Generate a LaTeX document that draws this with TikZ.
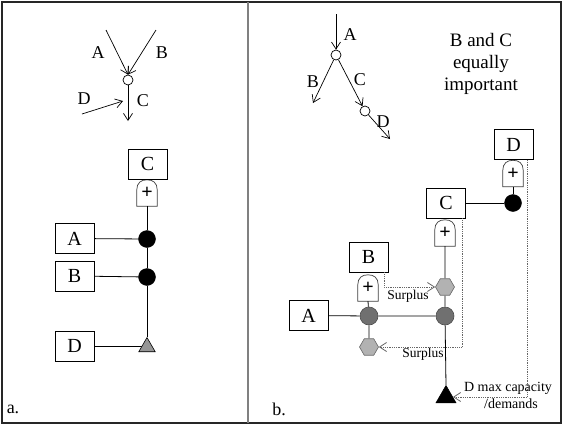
\documentclass[tikz,border=0pt]{standalone}
\usepackage{fontspec}
\setmainfont{Liberation Serif}
\usetikzlibrary{arrows.meta,shapes.geometric,calc,backgrounds}
\definecolor{dgray}{RGB}{112,112,112}
\definecolor{lgray}{RGB}{178,178,178}
\definecolor{tgray}{RGB}{150,150,150}
\tikzset{
 box/.style={draw, line width=0.8pt, minimum width=39pt, minimum height=30pt, inner sep=0pt, font=\fontsize{20}{22}\selectfont, fill=white},
 smallcirc/.style={circle, draw, line width=0.7pt, minimum size=10pt, inner sep=0pt, fill=white},
 blackdot/.style={circle, fill=black, draw=black, minimum size=17pt, inner sep=0pt},
 greydot/.style={circle, fill=dgray, draw=black!70, line width=0.6pt, minimum size=18pt, inner sep=0pt},
 hexa/.style={regular polygon, regular polygon sides=6, minimum size=19pt, inner sep=0pt, fill=lgray, draw=black!60, line width=0.6pt},
 tri/.style={regular polygon, regular polygon sides=3, inner sep=0pt, draw, line width=0.6pt},
 gatenode/.style={minimum width=20pt, minimum height=26pt, inner sep=0pt, font=\fontsize{20}{20}\selectfont\bfseries},
 arr/.style={-{Straight Barb[length=7pt,width=9pt]}, line width=0.7pt},
 dots/.style={densely dotted, line width=0.8pt, draw=black!60},
 darr/.style={dots, -{Straight Barb[length=7pt,width=9pt]}},
 conn/.style={line width=0.8pt},
 lbl/.style={font=\fontsize{18}{20}\selectfont, inner sep=0pt},
 slbl/.style={font=\fontsize{13.5}{15}\selectfont, inner sep=0pt},
}
\newcommand{\gateoutline}[1]{\draw[line width=0.7pt, draw=black!75, fill=white] (#1.south west) -- ($(#1.north west)+(0,10)$) .. controls ($(#1.north west)+(0,3)$) and ($(#1.north)+(-6,0)$) .. (#1.north) .. controls ($(#1.north)+(6,0)$) and ($(#1.north east)+(0,3)$) .. ($(#1.north east)+(0,10)$) -- (#1.south east) -- cycle;}
\begin{document}
\begin{tikzpicture}[x=1pt,y=-1pt]
\useasboundingbox (0,0) rectangle (563,426);
% frame
\draw[line width=1.5pt, black!85] (2,2) rectangle (561,423);
\draw[line width=2.5pt, gray] (248,2) -- (248,423);
\node[lbl] (capa) at (13,409) {a.};
\node[lbl] (capb) at (279,409) {b.};

% ---------- panel a, top
\node[smallcirc] (ac) at (128,80) {};
\coordinate (aAs) at (106,30);
\coordinate (aBs) at (156,30);
\draw[arr] (aAs) -- (ac.north);
\draw[arr] (aBs) -- (ac.north);
\coordinate (aCe) at (128,121);
\draw[arr] (ac) -- (aCe);
\coordinate (aDs) at (82,114);
\coordinate (aDe) at (123,101);
\draw[arr] (aDs) -- (aDe);
\node[lbl] (laA) at (98,53) {A};
\node[lbl] (laB) at (162,53) {B};
\node[lbl] (laC) at (143,101) {C};
\node[lbl] (laD) at (84,99) {D};

% ---------- panel a, bottom
\node[box] (aC) at (147.5,164) {C};
\node[gatenode] (aG) at (147,193) {\raisebox{-3pt}{+}};
\node[blackdot] (aAd) at (147,239) {};
\node[blackdot] (aBd) at (147,277) {};
\node[tri, minimum size=19pt, fill=tgray] (aT) at (147,347) {};
\node[box] (aA) at (74.5,238.5) {A};
\node[box] (aB) at (74.5,276) {B};
\node[box] (aD) at (74.5,346) {D};
\begin{scope}[on background layer]
\gateoutline{aG}
\draw[conn] (aG.south) -- (aAd) -- (aBd) -- (aT.corner 1);
\draw[conn] (aA) -- (aAd);
\draw[conn] (aB) -- (aBd);
\draw[conn] (aD) -- (aD -| aT);
\end{scope}

% ---------- panel b, top
\node[smallcirc] (b1) at (336,55) {};
\coordinate (bAs) at (336,14);
\draw[arr] (bAs) -- (b1);
\coordinate (bBe) at (313,103);
\draw[arr] (b1) -- (bBe);
\node[smallcirc] (b2) at (365,111) {};
\draw[arr] (b1) -- (b2);
\coordinate (bDe) at (390,139);
\draw[arr] (b2) -- (bDe);
\node[lbl] (lbA) at (350,35) {A};
\node[lbl] (lbB) at (313,82) {B};
\node[lbl] (lbC) at (360,80) {C};
\node[lbl] (lbD) at (383,122) {D};
\node[align=center, font=\fontsize{19}{22}\selectfont, inner sep=0pt] (note) at (481,64) {B and C\\equally\\important};

% ---------- panel b, bottom
\node[box] (bD) at (513.5,144.5) {D};
\node[gatenode] (bDG) at (513,173.5) {\raisebox{-3pt}{+}};
\node[blackdot] (bDd) at (513,203) {};
\node[box] (bC) at (446,203) {C};
\node[gatenode] (bCG) at (445,233) {\raisebox{-3pt}{+}};
\node[hexa] (bH1) at (445,287) {};
\node[greydot] (bR) at (445,316) {};
\node[greydot] (bL) at (369,316) {};
\node[box] (bB) at (368.5,257) {B};
\node[gatenode] (bBG) at (368,288) {\raisebox{-3pt}{+}};
\node[hexa] (bH2) at (369,347) {};
\node[box] (bA) at (308.5,315.5) {A};
\node[tri, minimum size=23pt, fill=black] (bT) at (446,397) {};
\begin{scope}[on background layer]
\gateoutline{bDG}
\gateoutline{bCG}
\gateoutline{bBG}
\draw[conn] (bDG.south) -- (bDd);
\draw[conn] (bC) -- (bDd);
\draw[conn] (bCG.south) -- (bH1) -- (bR) -- (bT.corner 1);
\draw[conn] (bA) -- (bL) -- (bR);
\draw[conn] (bBG.south) -- (bL) -- (bH2);
\end{scope}
\draw[darr] ($(bB.south east)+(-4,0)$) |- (bH1);
\draw[darr] ($(bC.south east)+(-3.5,0)$) |- (bH2);
\draw[darr] ($(bD.south east)+(-6,0)$) |- (bT);
\node[slbl] (sur1) at (408,296) {Surplus};
\node[slbl] (sur2) at (423,354) {Surplus};
\node[slbl, font=\fontsize{14}{15}\selectfont] (dmax) at (508,388) {D max capacity};
\node[slbl, font=\fontsize{14}{15}\selectfont] (dem) at (511,404) {/demands};
\end{tikzpicture}
\end{document}
